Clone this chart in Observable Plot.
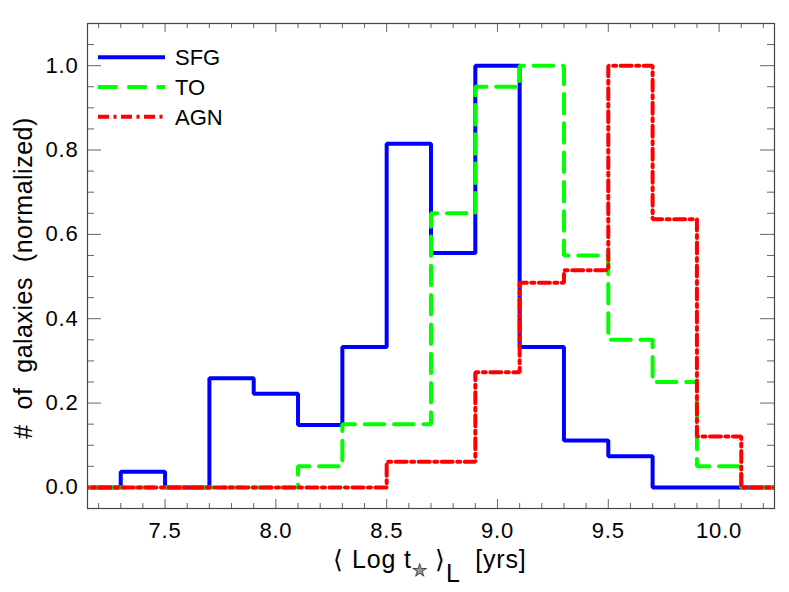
<!DOCTYPE html>
<html><head><meta charset="utf-8">
<script src="https://cdn.jsdelivr.net/npm/d3@7"></script>
<script src="https://cdn.jsdelivr.net/npm/@observablehq/plot@0.6"></script>
<style>body{margin:0;background:#fff} #chart{width:789px;height:592px}</style>
</head><body><div id="chart"></div>
<script>
// bin edges (0.2 dex bins) and normalized histogram values per bin
const binEdges = [7.1,7.3,7.5,7.7,7.9,8.1,8.3,8.5,8.7,8.9,9.1,9.3,9.5,9.7,9.9,10.1,10.3];
const sfgValues = [0,0.037,0,0.259,0.222,0.148,0.333,0.815,0.556,1.0,0.333,0.111,0.074,0,0,0];
const toValues  = [0,0,0,0,0,0.05,0.15,0.15,0.65,0.95,1.0,0.55,0.35,0.25,0.05,0];
const agnValues = [0,0,0,0,0,0,0,0.061,0.061,0.273,0.485,0.515,1.0,0.636,0.121,0];
const seriesNames = ["SFG","TO","AGN"];
const seriesColors = ["#0000ff","#00ff00","#ff0000"];
const seriesDash = [null,"19.5,9.8","11,4.5,3,4.5"];
const xTicks = [7.5,8.0,8.5,9.0,9.5,10.0];
const xTickLabels = ["7.5","8.0","8.5","9.0","9.5","10.0"];
const yTicks = [0,0.2,0.4,0.6,0.8,1.0];
const yTickLabels = ["0.0","0.2","0.4","0.6","0.8","1.0"];
const xMinor = [7.2,7.3,7.4,7.6,7.7,7.8,7.9,8.1,8.2,8.3,8.4,8.6,8.7,8.8,8.9,9.1,9.2,9.3,9.4,9.6,9.7,9.8,9.9,10.1,10.2];
const yMinor = [-0.05,0.05,0.1,0.15,0.25,0.3,0.35,0.45,0.5,0.55,0.65,0.7,0.75,0.85,0.9,0.95,1.05,1.1];

const W = 789, H = 592, ML = 87, MR = 15, MT = 23, MB = 84;
const PW = W - ML - MR, PH = H - MT - MB;

function steps(vals) {
  return binEdges.map((x, i) => ({x, y: vals[Math.min(i, vals.length - 1)]}));
}
const allValues = [sfgValues, toValues, agnValues];
const tickColor = "#666";
const FONT = "'Liberation Sans', Arial, Helvetica, sans-serif";

const marks = [
  Plot.ruleX(xTicks, {stroke: tickColor, insetTop: PH - 9}),
  Plot.ruleX(xTicks, {stroke: tickColor, insetBottom: PH - 9}),
  Plot.ruleX(xMinor, {stroke: tickColor, insetTop: PH - 5}),
  Plot.ruleX(xMinor, {stroke: tickColor, insetBottom: PH - 5}),
  Plot.ruleY(yTicks, {stroke: tickColor, insetRight: PW - 14}),
  Plot.ruleY(yTicks, {stroke: tickColor, insetLeft: PW - 14}),
  Plot.ruleY(yMinor, {stroke: tickColor, insetRight: PW - 7}),
  Plot.ruleY(yMinor, {stroke: tickColor, insetLeft: PW - 7}),
  ...allValues.map((vals, i) => Plot.line(steps(vals), {
    x: "x", y: "y", curve: "step-after", stroke: seriesColors[i], strokeWidth: 4,
    strokeDasharray: seriesDash[i], strokeLinejoin: "miter", clip: true
  })),
  Plot.frame({stroke: "#444", strokeWidth: 1.2}),
  Plot.axisX(xTicks, {anchor: "bottom", tickSize: 0, tickPadding: 14, fontSize: 22, label: null,
    tickFormat: d => xTickLabels[xTicks.indexOf(d)]}),
  Plot.axisY(yTicks, {anchor: "left", tickSize: 0, tickPadding: 9, fontSize: 22, label: null,
    tickFormat: d => yTickLabels[yTicks.indexOf(d)]})
];

const svgNode = Plot.plot({
  width: W, height: H, marginLeft: ML, marginRight: MR, marginTop: MT, marginBottom: MB,
  style: {fontFamily: FONT, background: "#fff", color: "#000"},
  x: {domain: [7.15, 10.25]},
  y: {domain: [-0.05, 1.1]},
  marks
});
document.getElementById("chart").appendChild(svgNode);

const svg = d3.select(svgNode);
svg.selectAll("g[aria-label='x-axis tick label'] text, g[aria-label='y-axis tick label'] text")
  .style("letter-spacing", "0.8px");

// y title
svg.append("text")
  .attr("transform", "translate(32,278) rotate(-90)")
  .attr("text-anchor", "middle")
  .attr("xml:space", "preserve")
  .style("white-space", "pre")
  .style("letter-spacing", "0.5px")
  .style("font-family", FONT).style("font-size", "25px").attr("fill", "#000")
  .text("#  of  galaxies  (normalized)");

// x title
const xt = svg.append("text")
  .attr("x", 430).attr("y", 568)
  .attr("text-anchor", "middle")
  .attr("xml:space", "preserve")
  .style("white-space", "pre")
  .style("letter-spacing", "0.8px")
  .style("font-family", FONT).style("font-size", "25px").attr("fill", "#000");
xt.append("tspan").text("\u27E8 Log t");
xt.append("tspan").attr("dy", 8).style("font-size", "17px").attr("fill", "#999")
  .attr("stroke", "#333").attr("stroke-width", 0.7).text("\u2605");
xt.append("tspan").attr("dy", -8).text(" \u27E9");
xt.append("tspan").attr("dy", 14).text("L");
xt.append("tspan").attr("dy", -14).text("  [yrs]");

// legend
seriesNames.forEach((name, i) => {
  const y = 57.3 + 29.7 * i;
  svg.append("line").attr("x1", 98).attr("x2", 165).attr("y1", y).attr("y2", y)
    .attr("stroke", seriesColors[i]).attr("stroke-width", 4)
    .attr("stroke-dasharray", seriesDash[i]);
  svg.append("text").attr("x", 175).attr("y", y + 8)
    .attr("text-anchor", "start")
    .style("font-family", FONT).style("font-size", "22px").attr("fill", "#000")
    .text(name);
});
</script>
</body></html>
